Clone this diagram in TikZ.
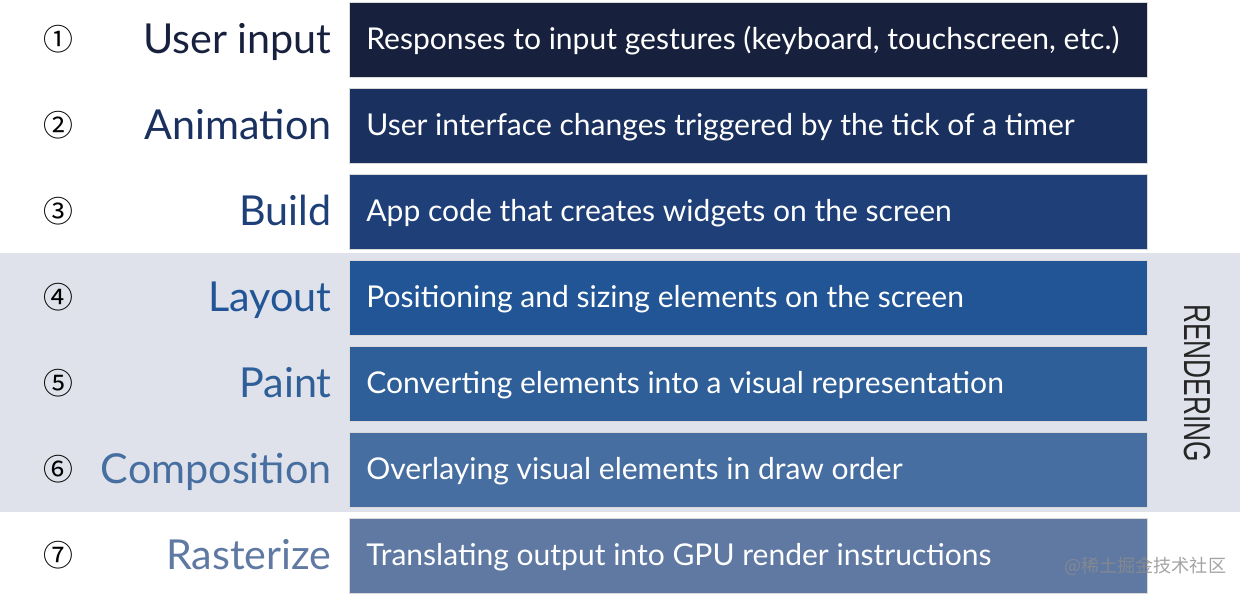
\documentclass[tikz,border=0pt]{standalone}
\usepackage{fontspec}
\setmainfont{Lato}
\newfontfamily\capfont{Liberation Sans}
\newfontfamily\cjkfont{Noto Sans CJK SC}
\usepackage{tikz}
\usetikzlibrary{positioning}
\definecolor{band}{HTML}{DFE2EA}
\definecolor{c1}{HTML}{17213D}
\definecolor{c2}{HTML}{1A305E}
\definecolor{c3}{HTML}{1E3F78}
\definecolor{c4}{HTML}{215595}
\definecolor{c5}{HTML}{2F5F98}
\definecolor{c6}{HTML}{476EA0}
\definecolor{c7}{HTML}{5F79A3}

\tikzset{
  stagebox/.style={draw=black!15, line width=0.5pt, minimum width=15.98cm,
    minimum height=1.5cm, inner sep=0pt},
  stagetext/.style={text=white, font=\fontsize{17.1}{20}\selectfont,
    inner sep=0pt, anchor=base west},
  stagelabel/.style={font=\fontsize{23.5}{28}\selectfont, inner sep=0pt,
    anchor=base east},
  stagenum/.style={font=\cjkfont\fontsize{17}{20}\selectfont, inner sep=0pt}
}

\begin{document}
\begin{tikzpicture}[x=0.02cm, y=-0.02cm]
\useasboundingbox (0,0) rectangle (1240,595);

% rendering band
\fill[band] (0,253) rectangle (1240,512);

\foreach \i/\n/\lab/\txt in {
    1/①/User input/{Responses to input gestures (keyboard, touchscreen, etc.)},
    2/②/Animation/User interface changes triggered by the tick of a timer,
    3/③/Build/App code that creates widgets on the screen,
    4/④/Layout/Positioning and sizing elements on the screen,
    5/⑤/Paint/Converting elements into a visual representation,
    6/⑥/Composition/Overlaying visual elements in draw order,
    7/⑦/Rasterize/Translating output into GPU render instructions}
{
    \pgfmathsetmacro{\yc}{39.5+86*(\i-1)}
    \node[stagebox, fill=c\i] (box\i) at (748.5,\yc) {};
    \node[stagetext] (txt\i) at (366,{\yc+10}) {\txt};
    \node[stagelabel, text=c\i] (lab\i) at (332,{\yc+14}) {\lab};
    \node[stagenum] (num\i) at (58,\yc) {\n};
}

\node[rotate=-90, text=black!85, font=\capfont\fontsize{21.4}{24}\selectfont]
    (rend) at (1197,383) {\scalebox{0.70}[1]{RENDERING}};

\node[anchor=west, text=black!45, opacity=0.8,
    font=\cjkfont\fontsize{10.3}{12}\selectfont] (mark) at (1058,566)
    {@稀土掘金技术社区};

\end{tikzpicture}
\end{document}
